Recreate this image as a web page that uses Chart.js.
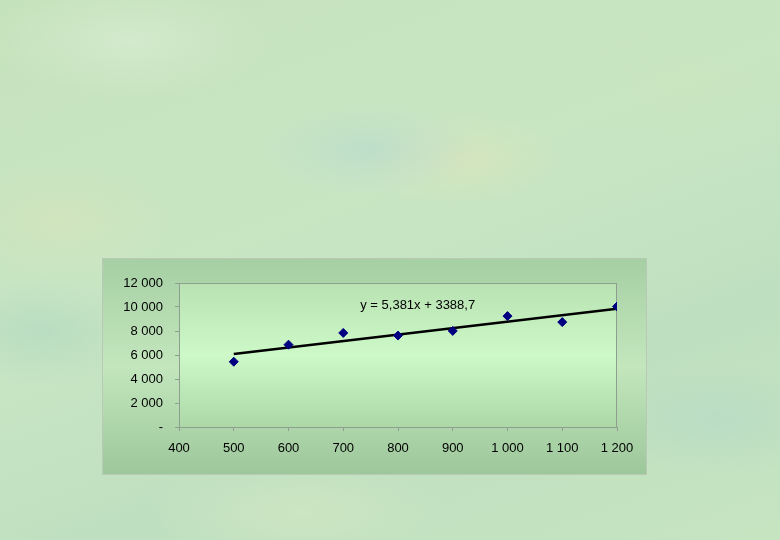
<!DOCTYPE html>
<html>
  <head>
    <script src="https://cdn.jsdelivr.net/npm/chart.js"></script>
    <style>
      html, body { margin: 0; padding: 0; }
      body {
        width: 780px; height: 540px; overflow: hidden; position: relative;
        background:
          radial-gradient(ellipse 140px 60px at 130px 40px, rgba(220,238,212,0.6), rgba(220,238,212,0)),
          radial-gradient(ellipse 110px 45px at 370px 150px, rgba(180,215,210,0.5), rgba(180,215,210,0)),
          radial-gradient(ellipse 100px 45px at 460px 160px, rgba(225,228,185,0.5), rgba(225,228,185,0)),
          radial-gradient(ellipse 150px 70px at 700px 90px, rgba(200,230,190,0.5), rgba(200,230,190,0)),
          radial-gradient(ellipse 110px 55px at 40px 330px, rgba(170,212,192,0.5), rgba(170,212,192,0)),
          radial-gradient(ellipse 120px 55px at 720px 420px, rgba(178,215,200,0.5), rgba(178,215,200,0)),
          radial-gradient(ellipse 150px 55px at 300px 510px, rgba(212,232,195,0.6), rgba(212,232,195,0)),
          radial-gradient(ellipse 110px 55px at 60px 220px, rgba(218,228,188,0.5), rgba(218,228,188,0)),
          linear-gradient(160deg, #c4e2bc 0%, #c9e6c3 40%, #bfe0c0 70%, #c6e4c0 100%);
      }
      #box {
        position: absolute; left: 102px; top: 258px; width: 545px; height: 217px;
        box-sizing: border-box; border: 1px solid #b9c9b6;
        background: linear-gradient(180deg, #a6cfa4 0%, #c3e6bd 50%, #9dc89b 100%);
      }
      #chart { position: absolute; left: -1px; top: -1px; }
    </style>
  </head>
  <body>
    <div id="box"><canvas id="chart" width="545" height="217"></canvas></div>

    <script>
      // data
      const xValues = [500, 600, 700, 800, 900, 1000, 1100, 1200];
      const yValues = [5440, 6860, 7840, 7620, 8010, 9240, 8740, 10040];
      // linear trendline y = 5,381x + 3388,7 at its two ends
      const trendX = [500, 1200];
      const trendY = [6079.2, 9845.9];
      const trendLabel = "y = 5,381x + 3388,7";

      const fmt = v => v === 0 ? "-" : String(v).replace(/\B(?=(\d{3})+(?!\d))/g, " ");

      const plotBg = {
        id: "plotBg",
        beforeDraw(chart) {
          const { ctx, chartArea: a } = chart;
          const g = ctx.createLinearGradient(0, a.top, 0, a.bottom);
          g.addColorStop(0, "#b8e2b2");
          g.addColorStop(0.5, "#cdf8c8");
          g.addColorStop(1, "#acd8a8");
          ctx.save();
          ctx.fillStyle = g;
          ctx.fillRect(a.left, a.top, a.right - a.left, a.bottom - a.top);
          ctx.strokeStyle = "#8f9f8f";
          ctx.lineWidth = 1;
          ctx.strokeRect(a.left + 0.5, a.top + 0.5, a.right - a.left - 1, a.bottom - a.top);
          ctx.restore();
        },
        afterDatasetsDraw(chart) {
          const { ctx, scales } = chart;
          ctx.save();
          ctx.font = "13px 'Liberation Sans', Arial, sans-serif";
          ctx.fillStyle = "#000";
          ctx.textAlign = "center";
          ctx.textBaseline = "middle";
          ctx.fillText(trendLabel, scales.x.getPixelForValue(836), scales.y.getPixelForValue(10100));
          ctx.restore();
        }
      };

      new Chart(document.getElementById("chart"), {
        type: "scatter",
        data: {
          datasets: [
            {
              label: "data",
              data: xValues.map((x, i) => ({ x: x, y: yValues[i] })),
              pointStyle: "rectRot",
              pointRadius: 4.5,
              backgroundColor: "#000080",
              borderColor: "#000080",
              borderWidth: 1,
              order: 1
            },
            {
              label: "trend",
              type: "line",
              data: trendX.map((x, i) => ({ x: x, y: trendY[i] })),
              borderColor: "#000",
              borderWidth: 2.5,
              pointRadius: 0,
              order: 2
            }
          ]
        },
        options: {
          responsive: false,
          animation: false,
          layout: { padding: { left: 0, top: 25, right: 30, bottom: 0 } },
          plugins: { legend: { display: false }, tooltip: { enabled: false } },
          scales: {
            x: {
              type: "linear",
              min: 400, max: 1200,
              afterFit(s) { s.height = 48; },
              border: { color: "#8f9f8f" },
              grid: { drawOnChartArea: false, tickLength: 4, color: "#8f9f8f" },
              ticks: {
                stepSize: 100, padding: 10, color: "#000",
                font: { family: "'Liberation Sans', Arial", size: 13 },
                callback: v => fmt(v)
              }
            },
            y: {
              min: 0, max: 12000,
              afterFit(s) { s.width = 77; },
              border: { color: "#8f9f8f" },
              grid: { drawOnChartArea: false, tickLength: 4, color: "#8f9f8f" },
              ticks: {
                stepSize: 2000, padding: 12, color: "#000",
                font: { family: "'Liberation Sans', Arial", size: 13 },
                callback: v => fmt(v)
              }
            }
          }
        },
        plugins: [plotBg]
      });
    </script>
  </body>
</html>
